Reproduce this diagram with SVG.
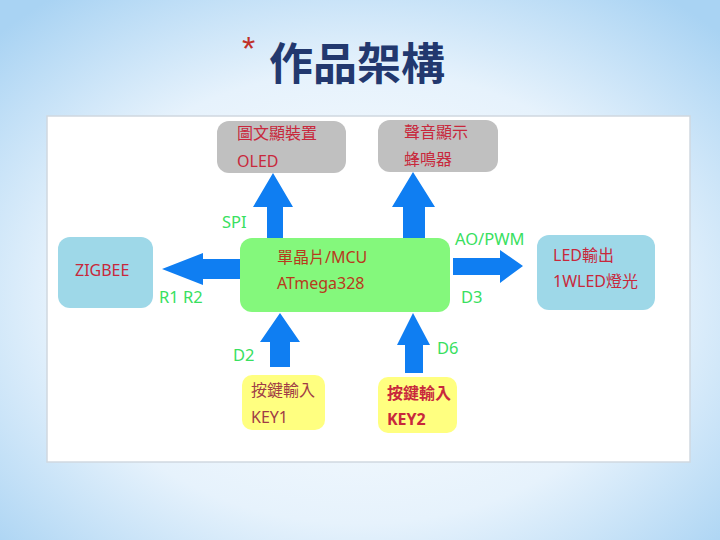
<svg xmlns="http://www.w3.org/2000/svg" width="720" height="540" viewBox="0 0 720 540">
<defs>
<radialGradient id="bg" cx="50%" cy="55%" r="70%">
<stop offset="0" stop-color="#ffffff"/>
<stop offset="0.6" stop-color="#e6f2fc"/>
<stop offset="1" stop-color="#a9d3f3"/>
</radialGradient>
<style>
.t{font-family:"Noto Sans","Noto Sans CJK TC",sans-serif;font-size:16px;fill:#c8283c}
.lbl{font-family:"Noto Sans","Noto Sans CJK TC",sans-serif;font-size:16.5px;fill:#38e060}
.arr{fill:#0f7ef2}
</style>
</defs>
<rect width="720" height="540" fill="url(#bg)"/>
<text x="242" y="60" font-family="Liberation Sans,sans-serif" font-size="34" fill="#c03028">*</text>
<text x="269" y="80" font-family="Noto Sans CJK TC,sans-serif" font-weight="bold" font-size="44" fill="#22386e">作品架構</text>
<rect x="47" y="116" width="643" height="346" fill="#ffffff" stroke="#d0d8e0" stroke-width="1.5"/>
<g id="connectors">
<polygon class="arr" points="267,238 267,207 253,207 273,173 293,207 283,207 283,238"/>
<polygon class="arr" points="403,238 403,207 392,207 413,172 435,207 425,207 425,238"/>
<polygon class="arr" points="240,259 203,259 203,253 162,269 203,285 203,279 240,279"/>
<polygon class="arr" points="453,258 500,258 500,250 523,266 500,283 500,275 453,275"/>
<polygon class="arr" points="270,367 270,342 260,342 280,313 300,342 290,342 290,367"/>
<polygon class="arr" points="405,373 405,345 397,345 413,313 430,345 423,345 423,373"/>
<text class="lbl" x="222" y="228">SPI</text>
<text class="lbl" x="455" y="245">AO/PWM</text>
<text class="lbl" x="159" y="303">R1 R2</text>
<text class="lbl" x="461" y="303">D3</text>
<text class="lbl" x="233" y="361">D2</text>
<text class="lbl" x="437" y="354">D6</text>
</g>
<g id="oled">
<rect x="217" y="121" width="129" height="52" rx="12" fill="#c0c0c0"/>
<text class="t" x="237" y="139">圖文顯裝置</text>
<text class="t" x="237" y="167">OLED</text>
</g>
<g id="buzzer">
<rect x="378" y="120" width="120" height="52" rx="12" fill="#c0c0c0"/>
<text class="t" x="404" y="138">聲音顯示</text>
<text class="t" x="404" y="165">蜂鳴器</text>
</g>
<g id="mcu">
<rect x="240" y="238" width="210" height="74" rx="12" fill="#84f87c"/>
<text class="t" x="277" y="263" style="fill:#b83a1c">單晶片/MCU</text>
<text class="t" x="277" y="289" style="fill:#b83a1c">ATmega328</text>
</g>
<g id="zigbee">
<rect x="58" y="237" width="95" height="71" rx="12" fill="#9ed8e8"/>
<text class="t" x="75" y="276">ZIGBEE</text>
</g>
<g id="led">
<rect x="537" y="235" width="118" height="75" rx="12" fill="#9ed8e8"/>
<text class="t" x="553" y="261">LED輸出</text>
<text class="t" x="553" y="287">1WLED燈光</text>
</g>
<g id="key1">
<rect x="242" y="375" width="83" height="55" rx="10" fill="#ffff80"/>
<text class="t" x="251" y="396" style="fill:#a03c46">按鍵輸入</text>
<text class="t" x="251" y="423" style="fill:#a03c46">KEY1</text>
</g>
<g id="key2">
<rect x="378" y="377" width="79" height="56" rx="10" fill="#ffff80"/>
<text class="t" x="387" y="399" font-weight="bold">按鍵輸入</text>
<text class="t" x="387" y="425" font-weight="bold">KEY2</text>
</g>
</svg>
